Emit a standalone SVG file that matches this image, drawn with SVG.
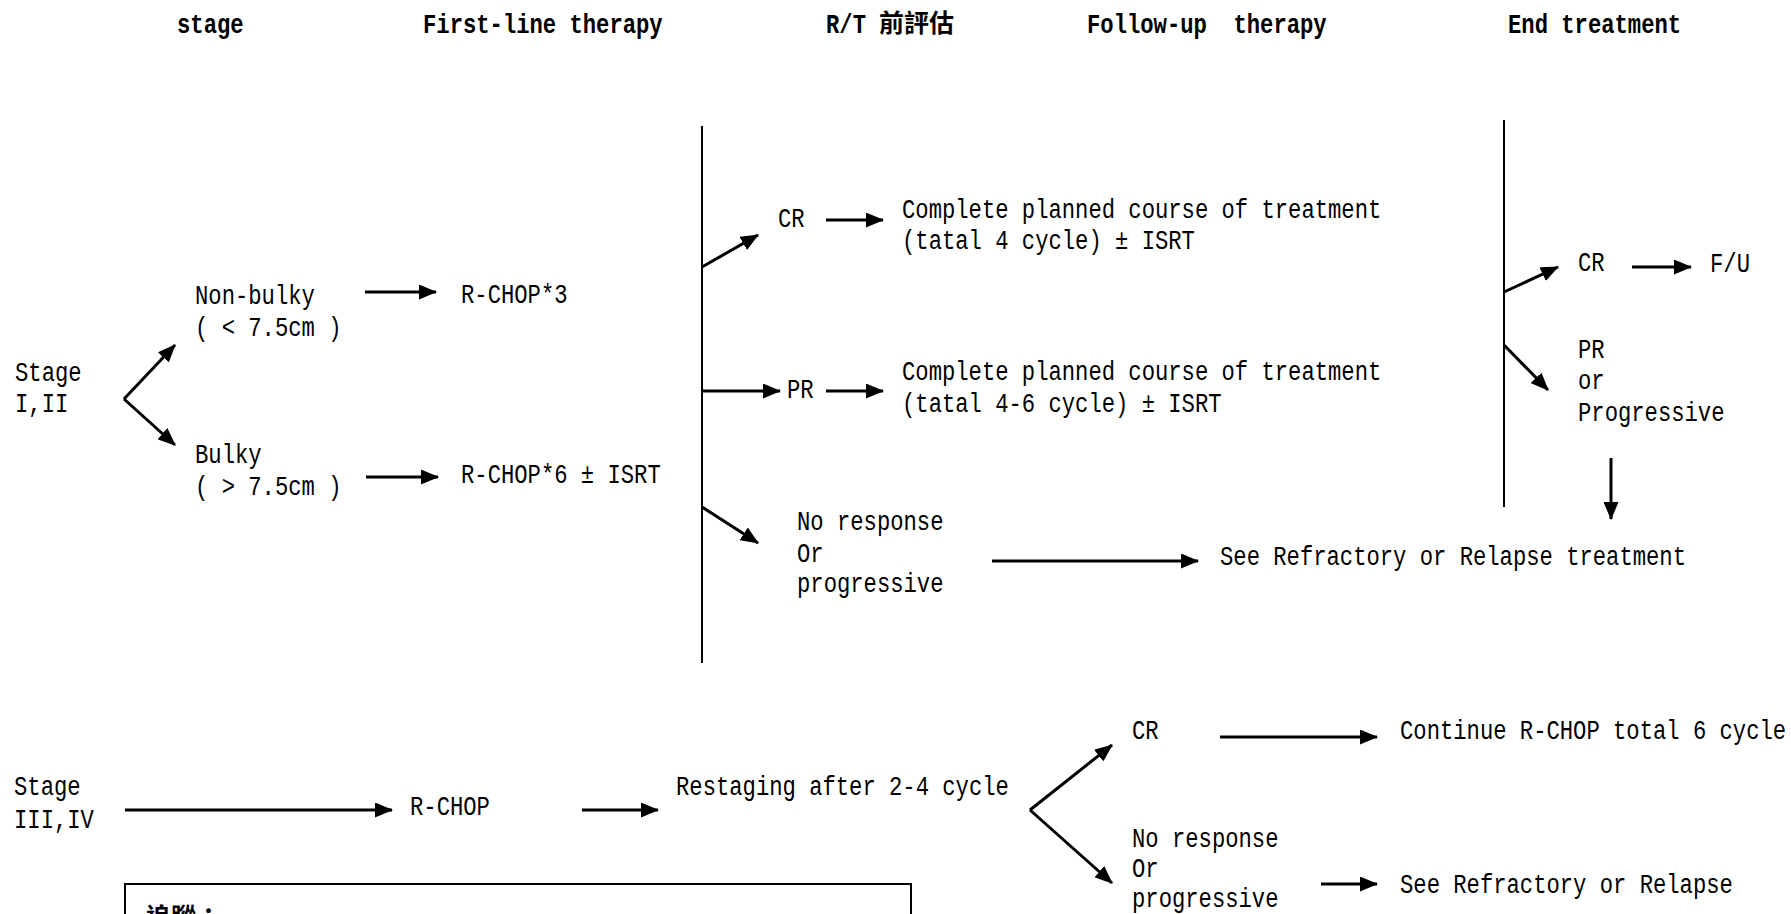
<svg xmlns="http://www.w3.org/2000/svg" width="1791" height="914" viewBox="0 0 1791 914">
<style>
text{font-family:"Liberation Mono","Noto Sans CJK TC",monospace;font-size:22.2px;fill:#000;white-space:pre}
.h{font-weight:bold}
.zh{font-family:"Noto Sans CJK TC",sans-serif;font-weight:bold;font-size:25px}
.ar{stroke:#000;stroke-width:3;fill:none;marker-end:url(#ah)}
.vl{stroke:#000;stroke-width:2;fill:none}
</style>
<defs>
<marker id="ah" markerUnits="userSpaceOnUse" markerWidth="18" markerHeight="15" refX="17" refY="7.5" orient="auto">
<path d="M0,0 L18,7.5 L0,15 z" fill="#000"/>
</marker>
</defs>
<rect width="1791" height="914" fill="#fff"/>

<g id="headers">
<text class="h" transform="matrix(1 0 0 1.27 177 33)">stage</text>
<text class="h" transform="matrix(1 0 0 1.27 423 33)">First-line therapy</text>
<text class="h" transform="matrix(1 0 0 1.27 826 33)">R/T</text>
<text class="zh" x="879" y="32">前評估</text>
<text class="h" transform="matrix(1 0 0 1.27 1087 33)" xml:space="preserve">Follow-up  therapy</text>
<text class="h" transform="matrix(1 0 0 1.27 1508 33)">End treatment</text>
</g>

<g id="connectors">
<line class="ar" x1="124" y1="399" x2="175" y2="345"/>
<line class="ar" x1="124" y1="399" x2="175" y2="445"/>
<line class="ar" x1="365" y1="292" x2="436" y2="292"/>
<line class="ar" x1="366" y1="477" x2="438" y2="477"/>
<line class="vl" x1="702" y1="126" x2="702" y2="663"/>
<line class="ar" x1="702" y1="267" x2="758" y2="235"/>
<line class="ar" x1="826" y1="220" x2="883" y2="220"/>
<line class="ar" x1="702" y1="391" x2="780" y2="391"/>
<line class="ar" x1="826" y1="391" x2="883" y2="391"/>
<line class="ar" x1="702" y1="507" x2="758" y2="543"/>
<line class="ar" x1="992" y1="561" x2="1198" y2="561"/>
<line class="vl" x1="1504" y1="120" x2="1504" y2="507"/>
<line class="ar" x1="1504" y1="292" x2="1558" y2="267"/>
<line class="ar" x1="1632" y1="267" x2="1691" y2="267"/>
<line class="ar" x1="1504" y1="345" x2="1548" y2="390"/>
<line class="ar" x1="1611" y1="458" x2="1611" y2="519"/>
<line class="ar" x1="125" y1="810" x2="392" y2="810"/>
<line class="ar" x1="582" y1="810" x2="658" y2="810"/>
<line class="ar" x1="1030" y1="810" x2="1112" y2="745"/>
<line class="ar" x1="1030" y1="810" x2="1112" y2="883"/>
<line class="ar" x1="1220" y1="737" x2="1377" y2="737"/>
<line class="ar" x1="1321" y1="884" x2="1377" y2="884"/>
</g>

<g id="stage12">
<text transform="matrix(1 0 0 1.27 15 381)">Stage</text>
<text transform="matrix(1 0 0 1.27 15 412)">I,II</text>
</g>
<g id="nonbulky">
<text transform="matrix(1 0 0 1.27 195 304)">Non-bulky</text>
<text transform="matrix(1 0 0 1.27 195 336)" xml:space="preserve">( &lt; 7.5cm )</text>
</g>
<g id="bulky">
<text transform="matrix(1 0 0 1.27 195 463)">Bulky</text>
<text transform="matrix(1 0 0 1.27 195 495)" xml:space="preserve">( &gt; 7.5cm )</text>
</g>
<g id="rchop3"><text transform="matrix(1 0 0 1.27 461 303)">R-CHOP*3</text></g>
<g id="rchop6"><text transform="matrix(1 0 0 1.27 461 483)">R-CHOP*6 ± ISRT</text></g>

<g id="cr1"><text transform="matrix(1 0 0 1.27 778 227)">CR</text></g>
<g id="complete4">
<text transform="matrix(1 0 0 1.27 902 218)">Complete planned course of treatment</text>
<text transform="matrix(1 0 0 1.27 902 249)">(tatal 4 cycle) ± ISRT</text>
</g>
<g id="pr1"><text transform="matrix(1 0 0 1.27 787 398)">PR</text></g>
<g id="complete46">
<text transform="matrix(1 0 0 1.27 902 380)">Complete planned course of treatment</text>
<text transform="matrix(1 0 0 1.27 902 412)">(tatal 4-6 cycle) ± ISRT</text>
</g>
<g id="nr1">
<text transform="matrix(1 0 0 1.27 797 530)">No response</text>
<text transform="matrix(1 0 0 1.27 797 562)">Or</text>
<text transform="matrix(1 0 0 1.27 797 592)">progressive</text>
</g>
<g id="refractory1"><text transform="matrix(1 0 0 1.27 1220 565)">See Refractory or Relapse treatment</text></g>

<g id="cr2"><text transform="matrix(1 0 0 1.27 1578 271)">CR</text></g>
<g id="fu"><text transform="matrix(1 0 0 1.27 1710 272)">F/U</text></g>
<g id="pr2">
<text transform="matrix(1 0 0 1.27 1578 358)">PR</text>
<text transform="matrix(1 0 0 1.27 1578 389)">or</text>
<text transform="matrix(1 0 0 1.27 1578 421)">Progressive</text>
</g>

<g id="stage34">
<text transform="matrix(1 0 0 1.27 14 795)">Stage</text>
<text transform="matrix(1 0 0 1.27 14 828)">III,IV</text>
</g>
<g id="rchop"><text transform="matrix(1 0 0 1.27 410 815)">R-CHOP</text></g>
<g id="restaging"><text transform="matrix(1 0 0 1.27 676 795)">Restaging after 2-4 cycle</text></g>
<g id="cr3"><text transform="matrix(1 0 0 1.27 1132 739)">CR</text></g>
<g id="continue"><text transform="matrix(1 0 0 1.27 1400 739)">Continue R-CHOP total 6 cycle</text></g>
<g id="nr2">
<text transform="matrix(1 0 0 1.27 1132 847)">No response</text>
<text transform="matrix(1 0 0 1.27 1132 877)">Or</text>
<text transform="matrix(1 0 0 1.27 1132 907)">progressive</text>
</g>
<g id="refractory2"><text transform="matrix(1 0 0 1.27 1400 893)">See Refractory or Relapse</text></g>

<g id="note">
<rect x="125" y="884" width="786" height="70" fill="none" stroke="#000" stroke-width="2"/>
<text class="zh" x="146" y="926">追蹤：</text>
</g>
</svg>
